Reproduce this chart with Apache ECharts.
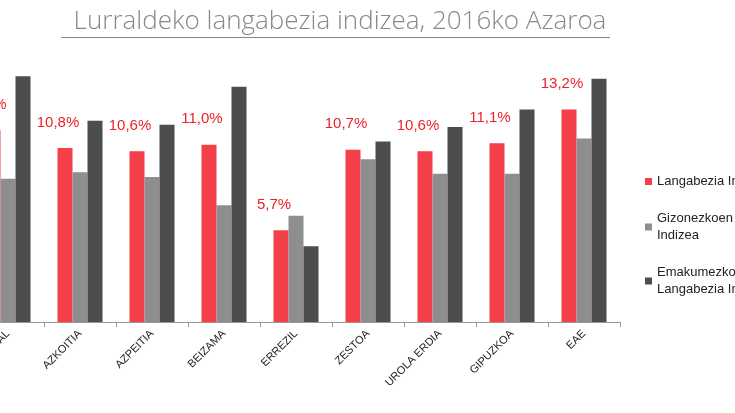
<!DOCTYPE html>
<html><head><meta charset="utf-8">
<script src="https://cdn.jsdelivr.net/npm/echarts@6/dist/echarts.min.js"></script>
<style>html,body{margin:0;padding:0;background:#fff}#c{width:735px;height:413px}</style>
</head><body><div id="c"></div>
<script>
const categories = ['AIZARNAZABAL','AZKOITIA','AZPEITIA','BEIZAMA','ERREZIL','ZESTOA','UROLA ERDIA','GIPUZKOA','EAE'];
const seriesNames = ['Langabezia Indizea','Gizonezkoen Langabezia Indizea','Emakumezkoen Langabezia Indizea'];
const total = [11.9,10.8,10.6,11.0,5.7,10.7,10.6,11.1,13.2];
const men = [8.9,9.3,9.0,7.25,6.6,10.1,9.2,9.2,11.4];
const women = [15.25,12.5,12.25,14.6,4.7,11.2,12.1,13.2,15.1];
const legendText = {
  'Langabezia Indizea':'Langabezia Indizea',
  'Gizonezkoen Langabezia Indizea':'Gizonezkoen Langabezia\nIndizea',
  'Emakumezkoen Langabezia Indizea':'Emakumezkoen\nLangabezia Indizea'
};
const chart = echarts.init(document.getElementById('c'));
const colors = ['#f4404a','#8e8e8e','#4d4d4d'];
const data = [total, men, women];
chart.setOption({
  animation:false,
  title:{text:'Lurraldeko langabezia indizea, 2016ko Azaroa',left:335,textAlign:'center',top:4,
    textStyle:{fontFamily:'Open Sans',fontWeight:300,fontSize:26,color:'#888'}},
  graphic:[{type:'rect',shape:{x:61,y:37,width:549,height:1},style:{fill:'#888'}}],
  grid:{left:-28,width:648,top:20,bottom:91,containLabel:false,outerBoundsMode:'none'},
  legend:{orient:'vertical',left:640,top:168,itemGap:20,itemWidth:7,itemHeight:7,icon:'rect',
    formatter:n=>legendText[n],
    textStyle:{fontFamily:'Liberation Sans',fontSize:13,color:'#222',lineHeight:17}},
  xAxis:{type:'category',data:categories,
    axisLine:{lineStyle:{color:'#999'}},axisTick:{show:true,lineStyle:{color:'#999'}},
    axisLabel:{rotate:45,interval:0,fontFamily:'Liberation Sans',fontSize:11,color:'#222',margin:10}},
  yAxis:{type:'value',min:0,max:18.75,show:false,splitLine:{show:false}},
  series:data.map((d,i)=>({
    name:seriesNames[i],type:'bar',data:d,barWidth:15,barGap:'0%',
    itemStyle:{color:colors[i]},
    label:i===0?{show:true,position:'top',distance:18,offset:[-7,0],color:'#f01e28',fontFamily:'Liberation Sans',fontSize:15,
      formatter:p=>p.value.toFixed(1).replace('.',',')+'%'}:{show:false}
  }))
});
</script></body></html>
